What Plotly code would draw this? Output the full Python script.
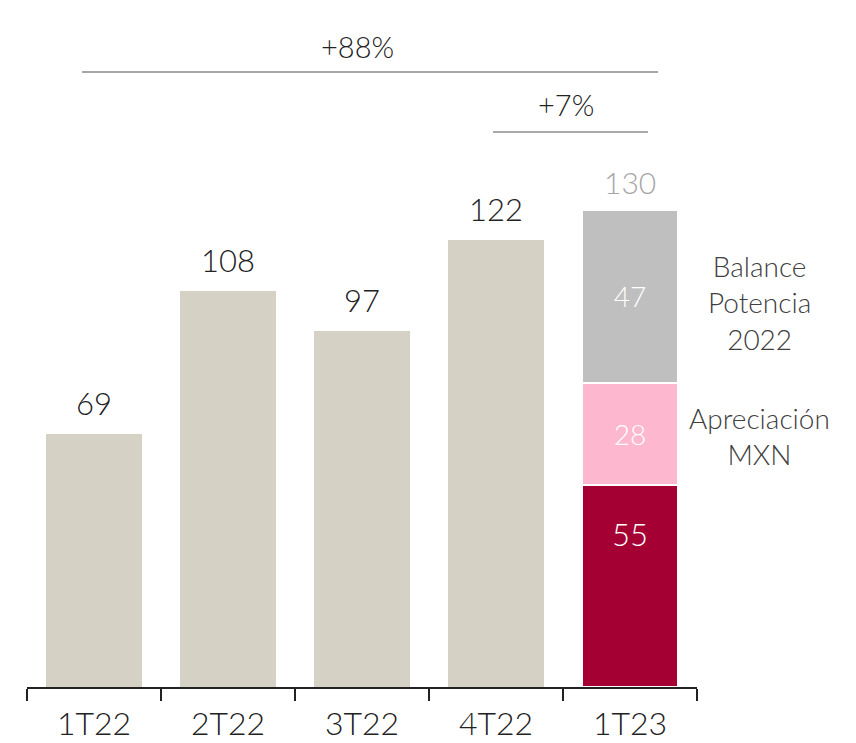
import plotly.graph_objects as go

categories = ["1T22", "2T22", "3T22", "4T22", "1T23"]
prev_values = [69, 108, 97, 122]
base_1t23 = 55
apreciacion_1t23 = 28
balance_1t23 = 47
total_1t23 = 130
growth_labels = ["+88%", "+7%"]
side_labels = ["Balance<br>Potencia<br>2022", "Apreciación<br>MXN"]

BEIGE = "#d5d1c5"
CRIMSON = "#a50034"
PINK = "#fdb7cf"
GREY = "#bfbfbf"
TXT = "#222222"
FONT = "Lato"
W = 300

# pixel geometry (page coords) -> data coords
X0_PAGE, STEP = 27, 134
PLOT_L, PLOT_W = 19, 670
def xd(px):
    return (px - X0_PAGE) / STEP - 0.5
def xp(px):
    return (px - X0_PAGE) / PLOT_W
BASE_PAGE, PXU = 687, 3.667
def yd(py):
    return (BASE_PAGE - py) / PXU

fig = go.Figure()
fig.add_bar(x=categories[:4], y=prev_values, marker=dict(color=BEIGE, line=dict(width=0)))
fig.add_bar(x=[categories[4]], y=[base_1t23], marker=dict(color=CRIMSON, line=dict(width=2, color="white")))
fig.add_bar(x=[categories[4]], y=[apreciacion_1t23], marker=dict(color=PINK, line=dict(width=2, color="white")),
            text=[str(apreciacion_1t23)], textposition="inside", insidetextanchor="middle",
            textfont=dict(size=28, color="white", family=FONT, weight=W))
fig.add_bar(x=[categories[4]], y=[balance_1t23], marker=dict(color=GREY, line=dict(width=2, color="white")),
            text=[str(balance_1t23)], textposition="inside", insidetextanchor="middle",
            textfont=dict(size=28, color="white", family=FONT, weight=W))

ann = []
for c, v in zip(categories[:4], prev_values):
    ann.append(dict(x=c, y=v, text=str(v), showarrow=False, yanchor="bottom", yshift=10,
                    font=dict(size=31, color=TXT, family=FONT, weight=W)))
ann.append(dict(x=categories[4], y=base_1t23, text=str(base_1t23), showarrow=False, yanchor="middle",
                yshift=-49, font=dict(size=31, color="white", family=FONT, weight=W)))
ann.append(dict(x=categories[4], y=total_1t23, text=str(total_1t23), showarrow=False, yanchor="bottom",
                yshift=8, font=dict(size=30, color="#a6a6a6", family=FONT, weight=W)))
ann.append(dict(x=xd(357), y=yd(46), text=growth_labels[0], showarrow=False,
                font=dict(size=29, color=TXT, family=FONT, weight=W)))
ann.append(dict(x=xd(566), y=yd(104), text=growth_labels[1], showarrow=False,
                font=dict(size=29, color=TXT, family=FONT, weight=W)))
ann.append(dict(xref="paper", x=xp(759), y=yd(302), text=side_labels[0], showarrow=False,
                xanchor="center", yanchor="middle",
                font=dict(size=28, color="#404040", family=FONT, weight=W)))
ann.append(dict(xref="paper", x=xp(759), y=yd(436), text=side_labels[1], showarrow=False,
                xanchor="center", yanchor="middle",
                font=dict(size=28, color="#404040", family=FONT, weight=W)))

shapes = [
    dict(type="line", xref="x", yref="y", x0=xd(82), x1=xd(658), y0=yd(72), y1=yd(72),
         line=dict(color="#a6a6a6", width=2)),
    dict(type="line", xref="x", yref="y", x0=xd(493), x1=xd(648), y0=yd(132), y1=yd(132),
         line=dict(color="#8c8c8c", width=1.5)),
]

fig.update_layout(
    barmode="stack", bargap=0.28, showlegend=False,
    width=856, height=743, margin=dict(l=PLOT_L, r=856 - PLOT_L - PLOT_W, t=0, b=64),
    plot_bgcolor="white", paper_bgcolor="white",
    font=dict(family=FONT, color=TXT),
    annotations=ann, shapes=shapes,
)
fig.update_xaxes(type="category", categoryorder="array", categoryarray=categories,
                 range=[-0.5, 4.5], showline=True, linecolor="#222", linewidth=2,
                 ticks="outside", tickson="boundaries", ticklen=12, tickwidth=2, tickcolor="#222",
                 ticklabelstandoff=8,
                 tickfont=dict(size=32, color=TXT, family=FONT, weight=W), showgrid=False)
fig.update_yaxes(range=[0, (743 - 64) / PXU], visible=False, showgrid=False)

fig.write_html("out.html")
